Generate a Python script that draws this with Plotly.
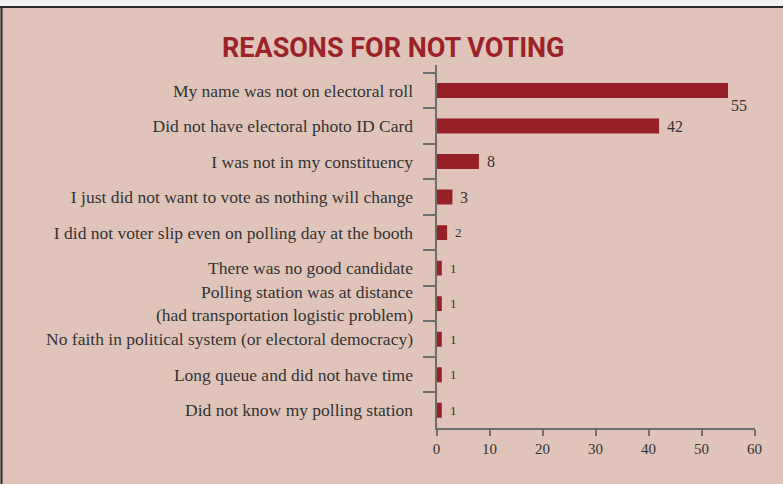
import plotly.graph_objects as go

# Survey responses: reasons given for not voting (count of respondents)
reasons = [
    "My name was not on electoral roll",
    "Did not have electoral photo ID Card",
    "I was not in my constituency",
    "I just did not want to vote as nothing will change",
    "I did not voter slip even on polling day at the booth",
    "There was no good candidate",
    "Polling station was at distance<br>(had transportation logistic problem)",
    "No faith in political system (or electoral democracy)",
    "Long queue and did not have time",
    "Did not know my polling station",
]
counts = [55, 42, 8, 3, 2, 1, 1, 1, 1, 1]
x_ticks = [0, 10, 20, 30, 40, 50, 60]

W, H = 783, 484
BG = "#e0c4b9"
BAR = "#952127"
TXT = "#333333"
AXIS = "#6e6e6e"
SERIF = "Liberation Serif, DejaVu Serif, serif"

fig = go.Figure(
    go.Bar(
        x=counts,
        y=reasons,
        orientation="h",
        marker=dict(color=BAR, line=dict(width=0)),
        width=0.42,
        hoverinfo="skip",
    )
)

# value labels next to each bar; the longest bar gets its label underneath
for r, c in zip(reasons, counts):
    if c == max(counts):
        fig.add_annotation(x=c, y=r, text=str(c), showarrow=False,
                           xanchor="center", yanchor="middle",
                           xshift=11, yshift=-15,
                           font=dict(family=SERIF, size=16, color=TXT))
    else:
        fig.add_annotation(x=c, y=r, text=str(c), showarrow=False,
                           xanchor="left", yanchor="middle",
                           xshift=6,
                           font=dict(family=SERIF, size=16 if c > 2 else 13, color=TXT))

# chart title
fig.add_annotation(x=394 / W, y=1 - 48 / H, xref="paper", yref="paper",
                   text="<b>REASONS FOR NOT VOTING</b>", showarrow=False,
                   xanchor="center", yanchor="middle",
                   font=dict(family="Roboto, Liberation Sans, sans-serif",
                             size=27, color="#9b2328"))

# frame: light strip above a dark top rule, dark rule down the left side
fig.add_shape(type="rect", xref="paper", yref="paper",
              x0=0, x1=1, y0=1 - 6 / H, y1=1.0,
              fillcolor="#f2f2f2", line=dict(width=0), layer="below")
fig.add_shape(type="line", xref="paper", yref="paper",
              x0=0, x1=1, y0=1 - 7 / H, y1=1 - 7 / H,
              line=dict(color="#2e2a2a", width=2))
fig.add_shape(type="line", xref="paper", yref="paper",
              x0=1.5 / W, x1=1.5 / W, y0=0, y1=1 - 7 / H,
              line=dict(color="#2e2a2a", width=2))

fig.update_layout(
    width=W, height=H,
    margin=dict(l=0, r=0, t=0, b=0, autoexpand=False),
    paper_bgcolor=BG, plot_bgcolor=BG,
    showlegend=False,
    xaxis=dict(
        domain=[436.5 / W, 754.5 / W],
        range=[0, 60],
        automargin=False,
        tickvals=x_ticks,
        ticktext=[str(v) for v in x_ticks],
        showgrid=False, zeroline=False,
        showline=True, linecolor=AXIS, linewidth=2,
        ticks="outside", ticklen=6, tickwidth=1.5, tickcolor=AXIS,
        tickfont=dict(family=SERIF, size=15, color=TXT),
        fixedrange=True,
    ),
    yaxis=dict(
        domain=[1 - 428 / H, 1 - 65 / H],
        autorange="reversed",
        automargin=False,
        categoryorder="array", categoryarray=reasons,
        showgrid=False, zeroline=False,
        showline=True, linecolor=AXIS, linewidth=2,
        ticks="outside", tickson="boundaries", ticklen=12,
        tickwidth=1.5, tickcolor=AXIS,
        ticklabelstandoff=18,
        tickfont=dict(family=SERIF, size=17.5, color=TXT),
        fixedrange=True,
    ),
)

fig.write_html("out.html")
